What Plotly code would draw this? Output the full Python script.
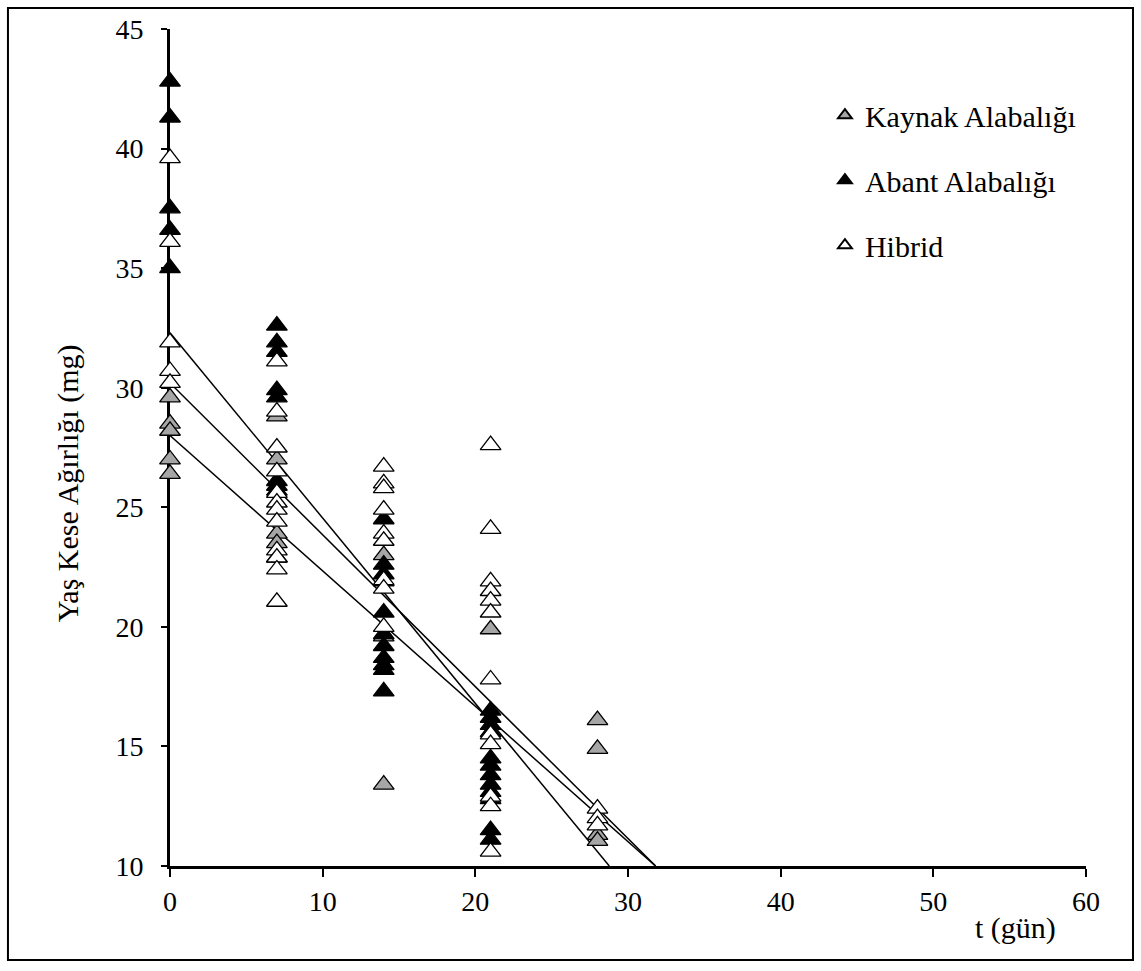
import plotly.graph_objects as go

# Sampling days
days_k = [0]*5 + [7]*5 + [14]*3 + [21]*1 + [28]*4
kaynak = [29.6, 28.5, 28.2, 27.0, 26.4,
          28.8, 27.0, 23.9, 23.5, 22.9,
          23.0, 19.6, 13.4,
          19.9,
          16.1, 14.9, 11.3, 11.05]

days_a = [0]*5 + [7]*8 + [14]*11 + [21]*12
abant = [42.8, 41.3, 37.5, 36.6, 35.0,
         32.6, 31.9, 31.5, 29.9, 29.6, 26.1, 25.9, 25.7,
         24.5, 22.6, 22.2, 21.9, 20.6, 19.7, 19.2, 18.7, 18.4, 18.2, 17.3,
         16.5, 16.2, 15.9, 15.6, 14.5, 14.2, 13.8, 13.4, 13.1, 12.8, 11.5, 11.1]

days_h = [0]*5 + [7]*12 + [14]*9 + [21]*12 + [28]*3
hibrid = [39.6, 36.1, 31.9, 30.7, 30.2,
          31.1, 29.0, 27.5, 26.5, 25.6, 25.2, 24.9, 24.4, 23.2, 22.9, 22.4, 21.05,
          26.7, 26.0, 25.8, 24.9, 23.9, 23.6, 21.95, 21.6, 20.0,
          27.6, 24.1, 21.9, 21.5, 21.1, 20.6, 17.8, 15.5, 15.1, 12.9, 12.5, 10.6,
          12.4, 12.0, 11.7]

# Linear trend lines: intercept and slope
trend_intercepts = [32.3, 30.2, 28.0]
trend_slopes = [-0.775, -0.635, -0.566]

Y_MIN, Y_MAX = 10, 45
X_MIN, X_MAX = 0, 60

FONT = "Liberation Serif, Times New Roman, serif"

fig = go.Figure()

# trend lines drawn first so markers sit on top
for b, m in zip(trend_intercepts, trend_slopes):
    x_end = (Y_MIN - b) / m
    fig.add_trace(go.Scatter(x=[0, x_end], y=[b, b + m * x_end], mode="lines",
                             line=dict(color="black", width=1.5),
                             showlegend=False, hoverinfo="skip"))

series = [
    ("Kaynak Alabalığı", days_k, kaynak, "#a6a6a6"),
    ("Abant Alabalığı", days_a, abant, "black"),
    ("Hibrid", days_h, hibrid, "white"),
]
for i, (name, xs, ys, col) in enumerate(series):
    fig.add_trace(go.Scatter(
        x=xs, y=ys, mode="markers", name=name, legendgroup=str(i),
        marker=dict(symbol="triangle-up", size=18, color=col,
                    line=dict(color="black", width=1.3)),
        cliponaxis=False,
    ))

fig.update_layout(
    width=1141, height=971,
    margin=dict(l=170, r=55, t=29, b=105),
    paper_bgcolor="white", plot_bgcolor="white",
    font=dict(family=FONT, size=30, color="black"),
    showlegend=True,
    legend=dict(x=0.715, y=0.928, xanchor="left", yanchor="top",
                font=dict(family=FONT, size=30, color="black"),
                tracegroupgap=23, itemsizing="constant",
                bgcolor="rgba(0,0,0,0)", itemwidth=30),
    xaxis=dict(range=[X_MIN, X_MAX], tickvals=[0, 10, 20, 30, 40, 50, 60],
               showgrid=False, zeroline=False, showline=True, linecolor="black",
               linewidth=3, ticks="outside", ticklen=8, tickwidth=2,
               tickcolor="black", layer="below traces",
               tickfont=dict(family=FONT, size=28)),
    yaxis=dict(range=[Y_MIN, Y_MAX], tickvals=[10, 15, 20, 25, 30, 35, 40, 45],
               showgrid=False, zeroline=False, showline=True, linecolor="black",
               linewidth=3, ticks="outside", ticklen=6, tickwidth=2,
               tickcolor="black", layer="below traces", ticklabelstandoff=12,
               tickfont=dict(family=FONT, size=28)),
    annotations=[
        dict(text="Yaş Kese Ağırlığı (mg)", xref="paper", yref="paper",
             x=-0.111, y=0.4576, textangle=-90, showarrow=False,
             xanchor="center", yanchor="middle",
             font=dict(family=FONT, size=30)),
        dict(text="t (gün)", xref="paper", yref="paper",
             x=0.9225, y=-0.074, showarrow=False, xanchor="center",
             yanchor="middle", font=dict(family=FONT, size=30)),
    ],
    shapes=[dict(type="rect", xref="paper", yref="paper",
                 x0=-0.1769, x1=1.0513, y0=-0.1123, y1=1.0251,
                 line=dict(color="black", width=2))],
)

fig.write_html("out.html")
